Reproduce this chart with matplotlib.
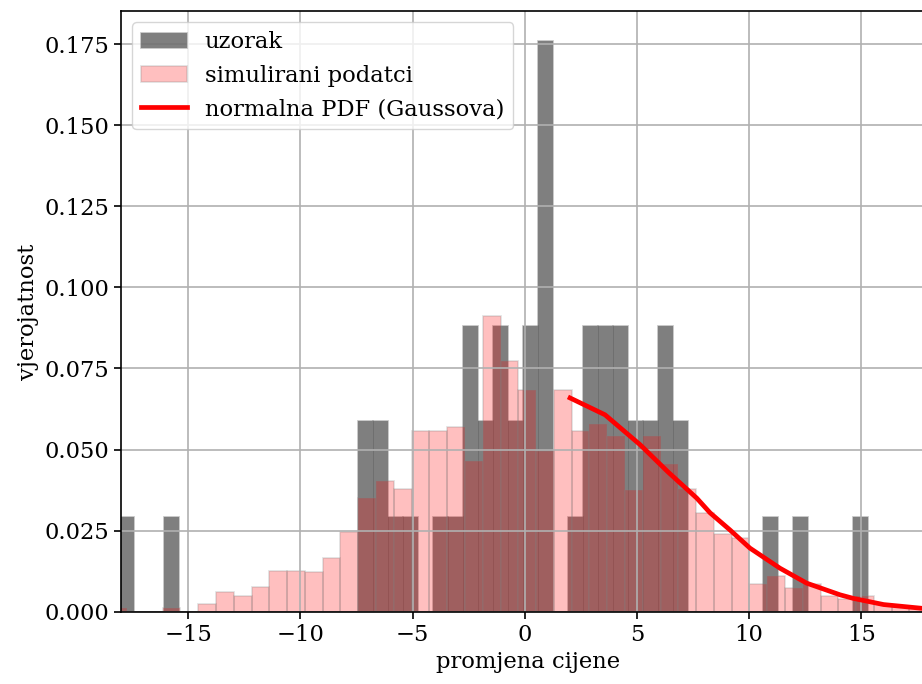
import numpy as np
import matplotlib
matplotlib.use("Agg")
import matplotlib.pyplot as plt

# ---- data ----
# sample histogram (uzorak): 50 bins between min and max of sample, counts per bin (N = 51)
sample_min, sample_max = -18.11, 15.31
sample_counts = [1, 0, 0, 1, 0, 0, 0, 0, 0, 0,
                 0, 0, 0, 0, 0, 0, 2, 2, 1, 1,
                 0, 1, 1, 3, 2, 3, 2, 3, 6, 0,
                 1, 3, 3, 3, 2, 2, 3, 2, 0, 0,
                 0, 0, 0, 1, 0, 1, 0, 0, 0, 1]

# simulated data histogram (simulirani podatci): density heights per bin
sim_min, sim_width = -18.52, 0.7927
sim_density = [0.0012, 0.0, 0.0, 0.0012, 0.0, 0.0024, 0.0062, 0.0049, 0.0075, 0.0126,
               0.0126, 0.0123, 0.0165, 0.0245, 0.0350, 0.0403, 0.0379, 0.0556, 0.0556, 0.0568,
               0.0466, 0.0913, 0.0772, 0.0682, 0.0494, 0.0684, 0.0556, 0.0579, 0.0543, 0.0376,
               0.0543, 0.0455, 0.0379, 0.0304, 0.0239, 0.0227, 0.0085, 0.0111, 0.0074, 0.0085,
               0.0048, 0.0038, 0.0048, 0.0024, 0.0015, 0.0010, 0.0006, 0.0004]

# normal PDF line
pdf_x = [2.02, 3.58, 5.14, 6.40, 7.67, 8.26, 9.15, 10.04, 11.38, 12.57, 14.06, 14.65, 16.0, 17.7, 19.0]
pdf_y = [0.0659, 0.0607, 0.0515, 0.0430, 0.0350, 0.0305, 0.0252, 0.0196, 0.0134, 0.0088, 0.0052, 0.0041, 0.0022, 0.00105, 0.0006]

# ---- plotting ----
plt.rcParams['font.family'] = ['DejaVu Serif']
fs = 16.3

fig = plt.figure(figsize=(9.22, 6.84), dpi=100)
W, H = 922, 684
ax = fig.add_axes([121 / W, (H - 611.7) / H, (935 - 121) / W, (611.7 - 11) / H])

s_edges = np.linspace(sample_min, sample_max, len(sample_counts) + 1)
s_centers = (s_edges[:-1] + s_edges[1:]) / 2
ax.hist(s_centers, bins=s_edges, weights=sample_counts, density=True,
        color='k', alpha=0.5, edgecolor='gray', linewidth=1.2, label='uzorak')

p_edges = sim_min + sim_width * np.arange(len(sim_density) + 1)
p_centers = (p_edges[:-1] + p_edges[1:]) / 2
ax.hist(p_centers, bins=p_edges, weights=sim_density,
        color='r', alpha=0.25, edgecolor='gray', linewidth=1.2, label='simulirani podatci')

ax.plot(pdf_x, pdf_y, color='red', linewidth=3.4, label='normalna PDF (Gaussova)')

ax.set_xlim(-18.0, 18.29)
ax.set_ylim(0, 0.1852)
ax.set_xticks([-15, -10, -5, 0, 5, 10, 15])
ax.set_yticks([0, 0.025, 0.05, 0.075, 0.1, 0.125, 0.15, 0.175])
ax.yaxis.set_major_formatter(matplotlib.ticker.FormatStrFormatter('%.3f'))
ax.tick_params(labelsize=fs, width=1.2, length=5)
ax.grid(True, color='#b0b0b0', linewidth=1.2)
for sp in ax.spines.values():
    sp.set_linewidth(1.2)

ax.set_xlabel('promjena cijene', fontsize=fs)
ax.set_ylabel('vjerojatnost', fontsize=fs)
ax.legend(loc='upper left', fontsize=fs)

fig.savefig('out.png', dpi=100)
